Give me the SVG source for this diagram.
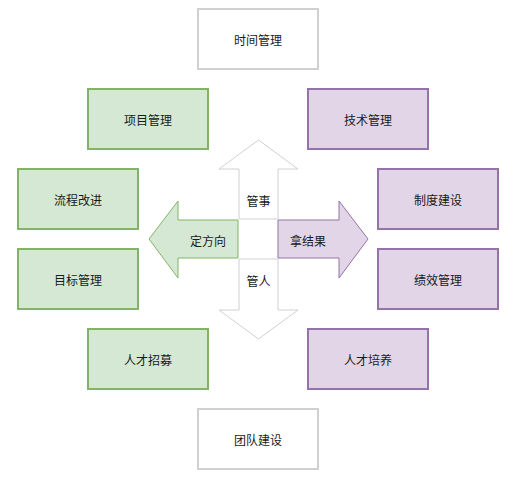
<svg xmlns="http://www.w3.org/2000/svg" width="524" height="480" viewBox="0 0 524 480">
<style>
.g rect{fill:#d5e8d4;stroke:#82b366;stroke-width:2}
.p rect{fill:#e1d5e7;stroke:#9673a6;stroke-width:2}
.w rect{fill:#ffffff;stroke:#d0d0d0;stroke-width:2}
text{font-family:"Noto Sans CJK SC","Noto Sans",sans-serif;font-size:12px;fill:#1a1a1a;text-anchor:middle;dominant-baseline:central}
</style>
<rect width="524" height="480" fill="#ffffff"/>
<g id="n-time" class="w"><rect x="198" y="9" width="120" height="60"/><text x="258" y="39">时间管理</text></g>
<g id="n-project" class="g"><rect x="88" y="89" width="120" height="60"/><text x="148" y="119">项目管理</text></g>
<g id="n-tech" class="p"><rect x="308" y="89" width="120" height="60"/><text x="368" y="119">技术管理</text></g>
<g id="n-process" class="g"><rect x="18" y="169" width="120" height="60"/><text x="78" y="199">流程改进</text></g>
<g id="n-system" class="p"><rect x="378" y="169" width="120" height="60"/><text x="438" y="199">制度建设</text></g>
<g id="n-goal" class="g"><rect x="18" y="249" width="120" height="60"/><text x="78" y="279">目标管理</text></g>
<g id="n-perf" class="p"><rect x="378" y="249" width="120" height="60"/><text x="438" y="279">绩效管理</text></g>
<g id="n-recruit" class="g"><rect x="88" y="329" width="120" height="60"/><text x="148" y="359">人才招募</text></g>
<g id="n-train" class="p"><rect x="308" y="329" width="120" height="60"/><text x="368" y="359">人才培养</text></g>
<g id="n-team" class="w"><rect x="198" y="409" width="120" height="60"/><text x="258" y="439">团队建设</text></g>
<g id="connectors">
<g id="a-up"><polygon points="239,219 239,169 219,169 258.5,140 298,169 278,169 278,219" fill="#ffffff" stroke="#d0d0d0" stroke-width="1"/><text x="258.5" y="200">管事</text></g>
<g id="a-down"><polygon points="239,259 239,310 219,310 258.5,339 298,310 278,310 278,259" fill="#ffffff" stroke="#d0d0d0" stroke-width="1"/><text x="258.5" y="280">管人</text></g>
<g id="a-left"><polygon points="238,220 178,220 178,201 149,239 178,278 178,258 238,258" fill="#d5e8d4" stroke="#82b366" stroke-width="1"/><text x="208" y="240">定方向</text></g>
<g id="a-right"><polygon points="278,220 339,220 339,201 368,239 339,278 339,258 278,258" fill="#e1d5e7" stroke="#9673a6" stroke-width="1"/><text x="308" y="240">拿结果</text></g>
</g>
</svg>
